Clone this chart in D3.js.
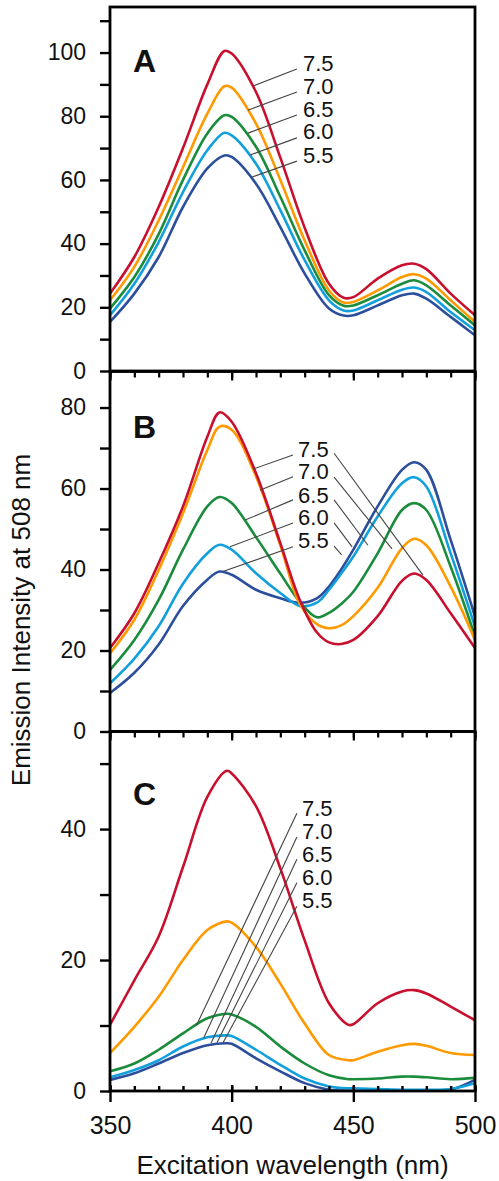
<!DOCTYPE html>
<html>
<head>
<meta charset="utf-8">
<script src="https://cdn.jsdelivr.net/npm/d3@7"></script>
<style>
  body { margin: 0; background: #fff; }
  text { font-family: "Liberation Sans", Arial, sans-serif; fill: #111; }
</style>
</head>
<body>
<div id="wrapper"></div>
<script>
// pH levels, top label first
const phLevels = ["7.5", "7.0", "6.5", "6.0", "5.5"];
const lineColors = ["#c8102e", "#ff9900", "#1a8c3c", "#12a0dc", "#2c4f9c"];

// panel A
const waveA = [350, 360, 370, 380, 390, 397, 400, 410, 420, 430, 440, 446, 450, 460, 470, 475, 480, 490, 500];
const a75 = [24.3, 35.8, 51.5, 70, 90, 100.5, 99.7, 87.6, 67, 45, 27.4, 23, 23.2, 29, 33.2, 33.7, 32, 24.3, 17.5];
const a70 = [22.2, 32.7, 47.3, 64, 80.8, 89.4, 89, 77.7, 60, 41, 25.3, 21.5, 21.7, 25.3, 29.5, 30.4, 29, 22.2, 15.4];
const a65 = [19.6, 29.5, 43, 60, 74.6, 80.3, 79.8, 70.4, 54.7, 37.9, 23.8, 20.5, 20.6, 23.8, 27.4, 28.5, 26.9, 20.6, 14.3];
const a60 = [17.5, 27.4, 40.5, 56.2, 69.3, 74.8, 74, 65.1, 50.5, 34.8, 22.2, 19, 19, 22.2, 25.5, 26.2, 24.8, 18.5, 12.8];
const a55 = [15.4, 24.3, 35.8, 51.5, 63.6, 67.7, 67.2, 58.8, 45.2, 30.6, 19.6, 17.4, 17.5, 20.6, 23.8, 24.3, 22.7, 17, 11.2];

// panel B
const waveB = [350, 360, 370, 380, 390, 395, 400, 410, 420, 428, 435, 440, 445, 450, 460, 470, 475, 480, 490, 500];
const b75 = [20.6, 29.2, 41.6, 55.6, 72.8, 78.8, 76.5, 63.8, 46.5, 32.5, 24.5, 22, 21.6, 22.6, 28.5, 37.2, 39, 37.4, 29.2, 20.6];
const b70 = [19.3, 27.6, 39.9, 53.9, 69.5, 75.3, 74.5, 63, 46, 31.5, 26.5, 25.5, 26.2, 28.5, 35.5, 45.3, 47.6, 46, 35.8, 22.6];
const b65 = [15.2, 22.6, 32.5, 44.9, 55.6, 57.9, 56.4, 48, 39, 32, 28.2, 29.3, 31.5, 34.5, 44, 54.7, 56.4, 54.7, 40.7, 23.5];
const b60 = [11.9, 18, 26, 36.5, 44, 46.1, 44.9, 39.1, 34.2, 31, 31.8, 35, 39, 43.2, 53.1, 61.3, 62.8, 60.5, 44, 25.9];
const b55 = [9.5, 14.5, 21.5, 31, 37.5, 39.5, 38.7, 35, 32.9, 31.8, 32.9, 35.8, 40, 44.9, 55.6, 64.6, 66.5, 64.6, 47.3, 28.4];

// panel C
const waveC = [350, 360, 370, 380, 390, 398, 400, 410, 420, 430, 440, 448, 450, 460, 470, 475, 480, 490, 500];
const c75 = [10.1, 16.9, 23.6, 34.2, 44.9, 48.9, 48.5, 43.5, 34, 23, 13.4, 10.1, 10.2, 13.4, 15.2, 15.4, 14.9, 12.9, 10.8];
const c70 = [5.8, 9.8, 14.4, 20, 24.6, 25.9, 25.7, 22, 16.4, 10.3, 5.5, 4.7, 4.7, 6, 7, 7.2, 6.9, 5.8, 5.5];
const c65 = [3, 4.2, 6.3, 8.8, 11.1, 11.8, 11.7, 9.8, 6.8, 4.2, 2.4, 1.8, 1.8, 1.9, 2.2, 2.2, 2.1, 1.8, 2.0];
const c60 = [2.1, 3.2, 4.7, 6.8, 8.2, 8.5, 8.4, 6.3, 4, 1.9, 0.7, 0.4, 0.4, 0.3, 0.2, 0.2, 0.2, 0.3, 1.2];
const c55 = [1.7, 2.7, 4.2, 5.8, 7, 7.3, 7.2, 5, 3, 1.2, 0.2, 0.05, 0, 0, 0, 0, 0, 0.2, 1.7];

// axis ticks
const xMinorTicks = d3.range(350, 501, 10);
const xMajorTicks = [350, 400, 450, 500];
const yTicksA = d3.range(0, 111, 10), yLabelsA = [0, 20, 40, 60, 80, 100];
const yTicksB = d3.range(0, 81, 10), yLabelsB = [0, 20, 40, 60, 80];
const yTicksC = d3.range(0, 51, 10), yLabelsC = [0, 20, 40];

// pH label text anchors (nm, value at baseline) and leader lines [start, end] in data units
const textA = [[429.3, 94.2], [429.3, 87], [429.3, 79.8], [429.3, 72.8], [429.3, 65.3]];
const leadA = [
  [[426.8, 94.8], [408.8, 89.5]],
  [[426.8, 87.6], [406.7, 81.9]],
  [[426.8, 80.4], [406.7, 74.7]],
  [[426.8, 73.2], [407.5, 67.8]],
  [[426.8, 65.9], [408.4, 60.9]]
];
const textB = [[427.3, 67.85], [427.3, 62.3], [427.3, 56.5], [427.3, 51], [427.3, 45.3]];
const leadB = [
  [[425.2, 68.3], [408.8, 64.8]], [[425.2, 62.9], [411.6, 59.6]], [[425.2, 57.2], [405.5, 52.2]],
  [[425.2, 51.5], [399.3, 45.6]], [[425.2, 45.6], [396.4, 39.5]],
  [[442.1, 68.7], [478.6, 38.6]], [[442.1, 62.8], [465.9, 45.1]], [[442.1, 57.2], [456, 46]],
  [[442.1, 51.5], [449.5, 45.6]], [[442.1, 45.8], [445.2, 43.6]]
];
const textC = [[428.9, 42], [428.9, 38.5], [428.9, 35], [428.9, 31.5], [428.9, 28]];
const leadC = [
  [[426.8, 42.4], [385.5, 10]],
  [[426.8, 38.8], [388.5, 8.1]],
  [[426.8, 35.4], [391.5, 7.3]],
  [[426.8, 31.8], [394, 7.4]],
  [[426.8, 28.2], [396.5, 7.4]]
];

const dimension = { width: 499, height: 1181, left: 110, right: 475 };

const svg = d3.select("#wrapper").append("svg")
  .attr("width", dimension.width)
  .attr("height", dimension.height);

const x = d3.scaleLinear().domain([350, 500]).range([dimension.left, dimension.right]);

const panels = [
  { letter: "A", letterPos: [359.5, 93.9], wave: waveA, series: [a75, a70, a65, a60, a55],
    top: 7, bottom: 371, ymax: 114.3, yTicks: yTicksA, yLabels: yLabelsA, text: textA, lead: leadA, topTicks: false },
  { letter: "B", letterPos: [359.5, 72.5], wave: waveB, series: [b75, b70, b65, b60, b55],
    top: 371.5, bottom: 731.5, ymax: 88.9, yTicks: yTicksB, yLabels: yLabelsB, text: textB, lead: leadB, topTicks: true },
  { letter: "C", letterPos: [359.5, 43.7], wave: waveC, series: [c75, c70, c65, c60, c55],
    top: 731.5, bottom: 1091, ymax: 54.9, yTicks: yTicksC, yLabels: yLabelsC, text: textC, lead: leadC, topTicks: true }
];

panels.forEach((p, pi) => {
  const y = d3.scaleLinear().domain([0, p.ymax]).range([p.bottom, p.top]);
  const g = svg.append("g");

  const clipId = "clip" + pi;
  g.append("clipPath").attr("id", clipId).append("rect")
    .attr("x", x(350)).attr("y", y(p.ymax))
    .attr("width", x(500) - x(350)).attr("height", y(0) - y(p.ymax));

  // curves, 5.5 first so 7.5 sits on top
  const line = d3.line()
    .x((d, i) => x(p.wave[i]))
    .y(d => y(d))
    .curve(d3.curveCatmullRom.alpha(0.5));

  const order = d3.range(phLevels.length).reverse();
  g.append("g").attr("clip-path", `url(#${clipId})`)
    .selectAll("path")
    .data(order)
    .join("path")
    .attr("d", k => line(p.series[k]))
    .attr("fill", "none")
    .attr("stroke", k => lineColors[k])
    .attr("stroke-width", 2.6)
    .attr("stroke-linejoin", "round");

  // leader lines
  g.append("g").selectAll("line")
    .data(p.lead)
    .join("line")
    .attr("x1", d => x(d[0][0])).attr("y1", d => y(d[0][1]))
    .attr("x2", d => x(d[1][0])).attr("y2", d => y(d[1][1]))
    .attr("stroke", "#444")
    .attr("stroke-width", 1.1);

  // pH labels
  g.append("g").selectAll("text")
    .data(p.text)
    .join("text")
    .attr("x", d => x(d[0]))
    .attr("y", d => y(d[1]))
    .attr("font-size", 22)
    .text((d, i) => phLevels[i]);

  // panel letter
  g.append("text")
    .attr("x", x(p.letterPos[0]))
    .attr("y", y(p.letterPos[1]))
    .attr("font-size", 32)
    .attr("font-weight", "bold")
    .text(p.letter);

  // y axis with outward ticks
  const yAxis = d3.axisLeft(y)
    .tickValues(p.yTicks)
    .tickSize(10)
    .tickPadding(14)
    .tickFormat(d => p.yLabels.includes(d) ? d : "");
  const ya = g.append("g").attr("transform", `translate(${x(350)},0)`).call(yAxis);
  ya.select(".domain").remove();
  ya.selectAll(".tick line").attr("stroke", "#000").attr("stroke-width", 2.4);
  ya.selectAll(".tick text").attr("font-size", 23).attr("font-family", "Liberation Sans, Arial, sans-serif").attr("fill", "#111");

  // inward ticks along the top edge of B and C
  if (p.topTicks) {
    const tMinor = g.append("g").attr("transform", `translate(0,${p.top})`)
      .call(d3.axisBottom(x).tickValues(xMinorTicks).tickSize(6).tickFormat(""));
    const tMajor = g.append("g").attr("transform", `translate(0,${p.top})`)
      .call(d3.axisBottom(x).tickValues(xMajorTicks).tickSize(9).tickFormat(""));
    [tMinor, tMajor].forEach(a => {
      a.select(".domain").remove();
      a.selectAll(".tick line").attr("stroke", "#000").attr("stroke-width", 2.2);
    });
  }

  // frame
  g.append("rect")
    .attr("x", x(350)).attr("y", y(p.ymax))
    .attr("width", x(500) - x(350)).attr("height", y(0) - y(p.ymax))
    .attr("fill", "none")
    .attr("stroke", "#000")
    .attr("stroke-width", 2.8);

  // bottom x axis on the last panel
  if (pi === panels.length - 1) {
    const bMinor = g.append("g").attr("transform", `translate(0,${p.bottom})`)
      .call(d3.axisTop(x).tickValues(xMinorTicks).tickSize(5).tickFormat(""));
    const bMajor = g.append("g").attr("transform", `translate(0,${p.bottom})`)
      .call(d3.axisBottom(x).tickValues(xMajorTicks).tickSize(11).tickPadding(14).tickFormat(d3.format("d")));
    const bMajorUp = g.append("g").attr("transform", `translate(0,${p.bottom})`)
      .call(d3.axisTop(x).tickValues(xMajorTicks).tickSize(6).tickFormat(""));
    [bMinor, bMajor, bMajorUp].forEach(a => {
      a.select(".domain").remove();
      a.selectAll(".tick line").attr("stroke", "#000").attr("stroke-width", 2.4);
    });
    bMajor.selectAll(".tick text").attr("font-size", 25).attr("font-family", "Liberation Sans, Arial, sans-serif").attr("fill", "#111");
  }
});

// axis titles
svg.append("text")
  .attr("x", x(425))
  .attr("y", 1174)
  .attr("text-anchor", "middle")
  .attr("font-size", 26)
  .text("Excitation wavelength (nm)");

svg.append("text")
  .attr("transform", "translate(30,620) rotate(-90)")
  .attr("text-anchor", "middle")
  .attr("font-size", 26)
  .text("Emission Intensity at 508 nm");
</script>
</body>
</html>
